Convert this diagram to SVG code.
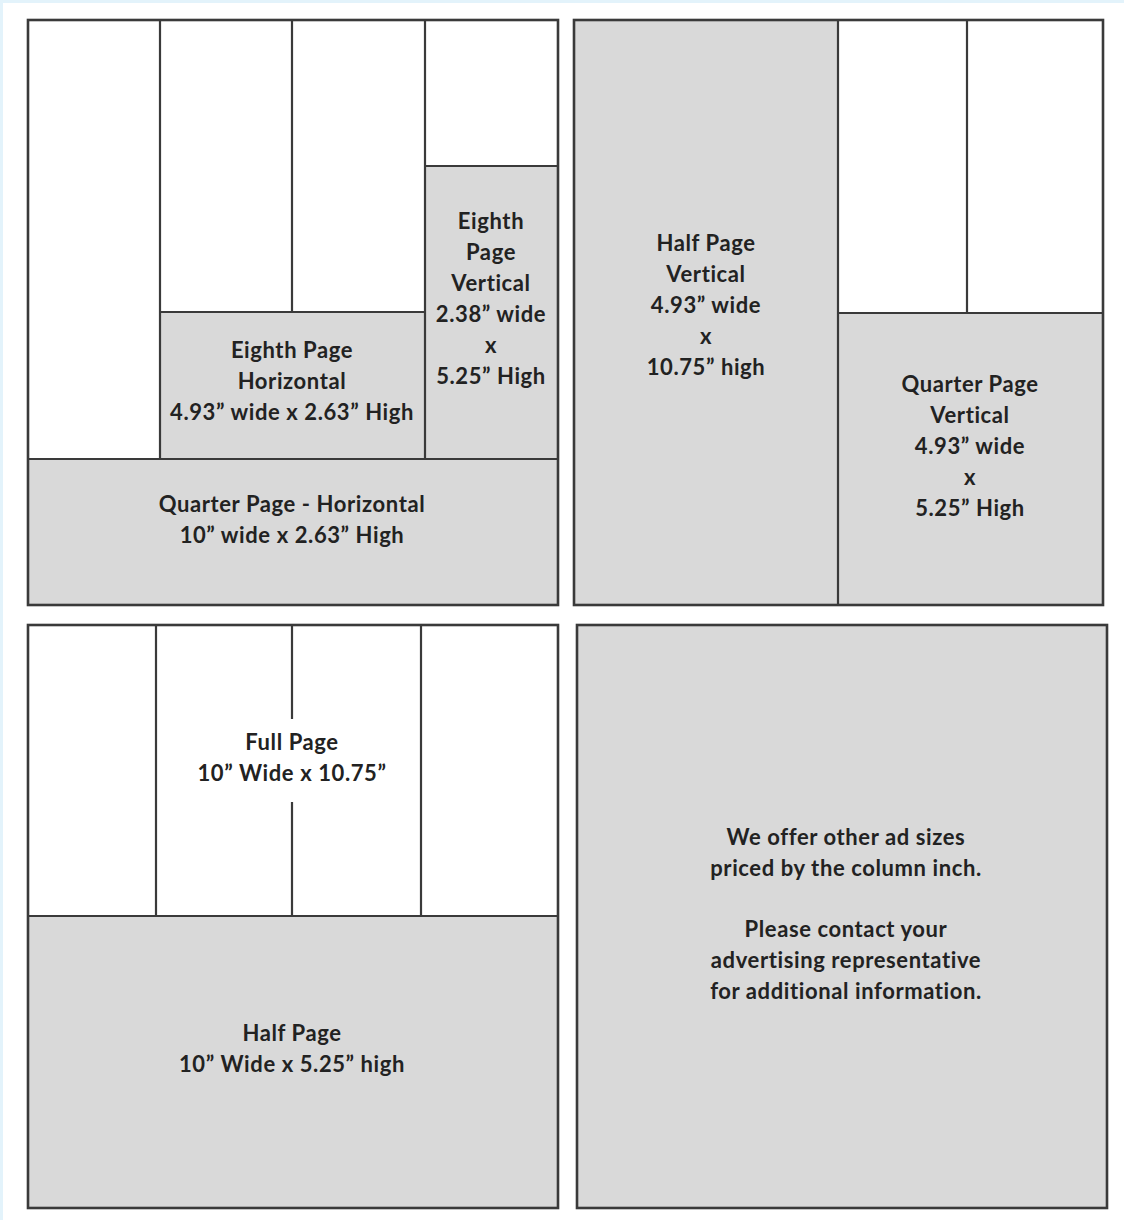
<svg xmlns="http://www.w3.org/2000/svg" width="1124" height="1220" viewBox="0 0 1124 1220">
<style>
.bg{fill:#e3f3fb}
.paper{fill:#ffffff}
.g{fill:#d9d9d9;stroke:none}
.frame{fill:none;stroke:#3a3a3a;stroke-width:2.6}
.ln{stroke:#3a3a3a;stroke-width:2.2;fill:none}
text{font-family:Lato,"Open Sans","Liberation Sans",sans-serif;font-weight:bold;font-size:22px;letter-spacing:0.6px;fill:#222;text-anchor:middle}
</style>
<rect class="bg" x="0" y="0" width="1124" height="1220"/>
<rect class="paper" x="3" y="3" width="1121" height="1217"/>

<g id="panel-top-left">
  <rect class="g" x="160" y="312" width="265" height="147"/>
  <rect class="g" x="425" y="166" width="133" height="293"/>
  <rect class="g" x="28" y="459" width="530" height="146"/>
  <path class="ln" d="M160 20V459M292 20V312M425 20V459M160 312H425M425 166H558M28 459H558"/>
  <rect class="frame" x="28" y="20" width="530" height="585"/>
</g>
<g id="eighth-vertical">
  <text x="491" y="229">Eighth</text>
  <text x="491" y="260">Page</text>
  <text x="491" y="291">Vertical</text>
  <text x="491" y="322">2.38” wide</text>
  <text x="491" y="353">x</text>
  <text x="491" y="384">5.25” High</text>
</g>
<g id="eighth-horizontal">
  <text x="292" y="358">Eighth Page</text>
  <text x="292" y="389">Horizontal</text>
  <text x="292" y="420">4.93” wide x 2.63” High</text>
</g>
<g id="quarter-horizontal">
  <text x="292" y="512">Quarter Page - Horizontal</text>
  <text x="292" y="543">10” wide x 2.63” High</text>
</g>

<g id="panel-top-right">
  <rect class="g" x="574" y="20" width="264" height="585"/>
  <rect class="g" x="838" y="313" width="265" height="292"/>
  <path class="ln" d="M838 20V605M967 20V313M838 313H1103"/>
  <rect class="frame" x="574" y="20" width="529" height="585"/>
</g>
<g id="half-vertical">
  <text x="706" y="251">Half Page</text>
  <text x="706" y="282">Vertical</text>
  <text x="706" y="313">4.93” wide</text>
  <text x="706" y="344">x</text>
  <text x="706" y="375">10.75” high</text>
</g>
<g id="quarter-vertical">
  <text x="970" y="392">Quarter Page</text>
  <text x="970" y="423">Vertical</text>
  <text x="970" y="454">4.93” wide</text>
  <text x="970" y="485">x</text>
  <text x="970" y="516">5.25” High</text>
</g>

<g id="panel-bottom-left">
  <rect class="g" x="28" y="916" width="530" height="292"/>
  <path class="ln" d="M156 625V916M292 625V719M292 802V916M421 625V916M28 916H558"/>
  <rect class="frame" x="28" y="625" width="530" height="583"/>
</g>
<g id="full-page">
  <text x="292" y="750">Full Page</text>
  <text x="292" y="781">10” Wide x 10.75”</text>
</g>
<g id="half-horizontal">
  <text x="292" y="1041">Half Page</text>
  <text x="292" y="1072">10” Wide x 5.25” high</text>
</g>

<g id="panel-bottom-right">
  <rect class="g" x="577" y="625" width="530" height="583"/>
  <rect class="frame" x="577" y="625" width="530" height="583"/>
  <text x="846" y="845">We offer other ad sizes</text>
  <text x="846" y="876">priced by the column inch.</text>
  <text x="846" y="937">Please contact your</text>
  <text x="846" y="968">advertising representative</text>
  <text x="846" y="999">for additional information.</text>
</g>
<g id="connectors"></g>
</svg>
